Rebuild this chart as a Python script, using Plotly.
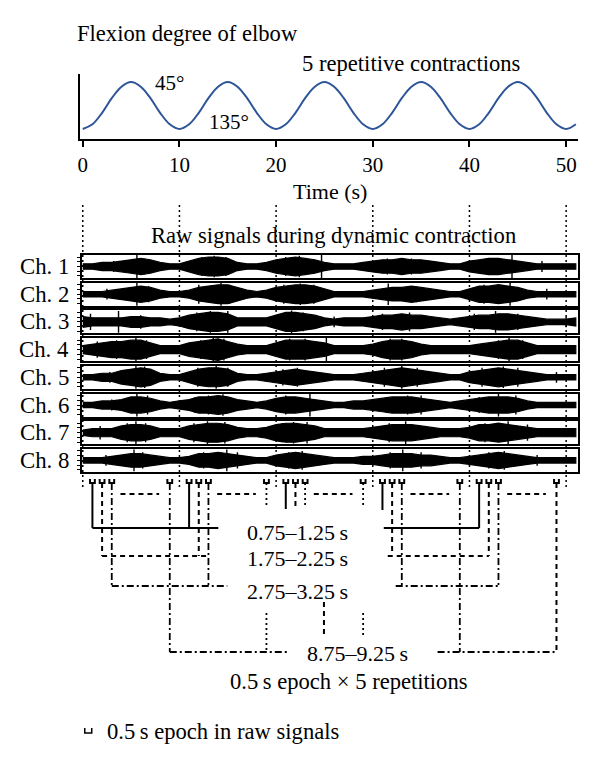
import plotly.graph_objects as go

# ---------------- data ----------------
time_s = list(range(52))  # 1 s steps
flexion_deg = [
    135, 126, 104, 76, 54, 45, 54, 76, 104, 126,
    135, 126, 104, 76, 54, 45, 54, 76, 104, 126,
    135, 126, 104, 76, 54, 45, 54, 76, 104, 126,
    135, 126, 104, 76, 54, 45, 54, 76, 104, 126,
    135, 126, 104, 76, 54, 45, 54, 76, 104, 126,
    135, 126,
]
time_ticks = [0, 10, 20, 30, 40, 50]

channel_names = ["Ch. 1", "Ch. 2", "Ch. 3", "Ch. 4", "Ch. 5", "Ch. 6", "Ch. 7", "Ch. 8"]

# EMG envelope (tenths of panel half-height), one value per second
ch1_env = [2, 2, 3, 3, 4, 5, 6, 5, 3, 2, 2, 4, 6, 7, 7, 6, 3, 2, 2, 3, 5, 6, 7, 6, 5, 3, 2, 2, 2, 3,
           4, 5, 5, 6, 5, 5, 4, 3, 2, 2, 4, 5, 6, 6, 5, 4, 3, 2, 2, 2, 2, 2]
ch2_env = [2, 2, 2, 3, 4, 5, 6, 5, 3, 2, 2, 3, 5, 6, 7, 7, 5, 3, 2, 3, 5, 6, 7, 7, 6, 4, 2, 2, 2, 2,
           3, 4, 5, 5, 6, 5, 4, 3, 2, 2, 4, 6, 6, 7, 6, 5, 3, 2, 2, 2, 2, 2]
ch3_env = [4, 3, 3, 3, 3, 4, 4, 3, 3, 2, 3, 5, 6, 7, 7, 6, 3, 3, 3, 3, 5, 7, 7, 6, 5, 3, 2, 3, 3, 3,
           4, 5, 5, 6, 5, 5, 4, 3, 2, 3, 4, 5, 5, 6, 6, 5, 4, 3, 2, 2, 2, 3]
ch4_env = [3, 4, 5, 6, 6, 7, 7, 5, 3, 3, 3, 5, 6, 7, 8, 6, 4, 3, 3, 3, 5, 7, 7, 7, 6, 5, 3, 3, 3, 3,
           4, 6, 7, 7, 6, 4, 3, 3, 3, 3, 3, 4, 5, 6, 7, 7, 5, 3, 3, 3, 3, 3]
ch5_env = [2, 2, 3, 3, 5, 6, 7, 6, 3, 2, 2, 4, 6, 7, 7, 6, 3, 2, 2, 3, 4, 5, 6, 5, 4, 3, 2, 2, 2, 3,
           4, 5, 6, 7, 6, 5, 4, 3, 2, 2, 4, 5, 6, 7, 6, 5, 4, 3, 2, 2, 2, 2]
ch6_env = [2, 2, 3, 3, 4, 6, 6, 5, 3, 2, 3, 4, 6, 6, 7, 6, 4, 3, 2, 3, 5, 6, 6, 5, 4, 3, 2, 2, 3, 3,
           4, 5, 6, 6, 6, 5, 4, 3, 2, 3, 4, 5, 6, 6, 6, 5, 3, 2, 2, 2, 2, 2]
ch7_env = [2, 3, 3, 3, 5, 6, 6, 5, 3, 3, 3, 5, 6, 7, 7, 6, 4, 3, 3, 4, 6, 7, 7, 6, 5, 3, 3, 3, 3, 3,
           4, 5, 6, 6, 6, 5, 4, 3, 3, 3, 4, 6, 6, 7, 6, 5, 4, 3, 3, 3, 3, 3]
ch8_env = [2, 2, 2, 3, 4, 5, 5, 4, 3, 2, 2, 3, 5, 5, 6, 5, 4, 3, 2, 2, 4, 5, 6, 5, 4, 3, 2, 2, 2, 3,
           3, 4, 5, 5, 5, 4, 4, 3, 2, 2, 3, 4, 5, 6, 5, 4, 3, 2, 2, 2, 2, 2]
ch_envs = [ch1_env, ch2_env, ch3_env, ch4_env, ch5_env, ch6_env, ch7_env, ch8_env]

# single spikes sticking out of the envelope: times (s) and amplitudes
ch1_spk_t = [3.2, 5.6, 6.4, 12.3, 13.6, 14.8, 21.0, 22.4, 24.7, 31.5, 34.0, 41.8, 44.4, 47.5]
ch1_spk_a = [4, 9, 6, 7, 8, 7, 7, 8, 9, 6, 6, 6, 9, 4]
ch2_spk_t = [2.5, 5.6, 6.8, 12.0, 14.3, 15.2, 20.8, 22.5, 23.9, 31.6, 34.5, 41.5, 43.0, 44.2, 48.0]
ch2_spk_a = [4, 9, 6, 7, 9, 7, 7, 8, 7, 8, 6, 7, 7, 9, 4]
ch3_spk_t = [0.8, 3.7, 6.0, 11.8, 13.2, 15.0, 21.6, 22.8, 26.0, 31.0, 33.8, 40.5, 42.7, 45.0, 50.0]
ch3_spk_a = [6, 8, 5, 7, 8, 8, 9, 7, 4, 6, 7, 6, 8, 6, 4]
ch4_spk_t = [1.5, 3.5, 5.5, 6.6, 12.2, 13.5, 14.6, 21.4, 23.0, 25.2, 31.8, 33.0, 43.0, 44.1, 45.5]
ch4_spk_a = [6, 7, 9, 7, 7, 9, 8, 8, 8, 9, 8, 8, 7, 9, 7]
ch5_spk_t = [2.8, 5.5, 6.4, 11.9, 13.8, 15.0, 20.7, 22.2, 31.2, 33.0, 34.6, 41.3, 43.5, 45.0, 49.0]
ch5_spk_a = [4, 9, 8, 7, 9, 7, 6, 7, 7, 9, 7, 7, 8, 7, 4]
ch6_spk_t = [3.0, 5.6, 6.7, 11.6, 13.0, 14.5, 21.0, 23.5, 31.4, 33.6, 35.0, 41.0, 43.0, 44.8]
ch6_spk_a = [4, 9, 7, 6, 7, 8, 7, 9, 6, 7, 7, 6, 9, 7]
ch7_spk_t = [1.8, 4.6, 5.5, 6.5, 11.5, 12.9, 14.7, 20.6, 21.8, 23.2, 31.7, 33.4, 41.6, 44.0, 46.0]
ch7_spk_a = [5, 7, 9, 7, 7, 9, 8, 7, 8, 8, 7, 9, 7, 9, 6]
ch8_spk_t = [2.4, 5.3, 6.2, 12.5, 14.9, 16.0, 21.3, 22.7, 31.8, 33.1, 35.0, 42.0, 43.6, 47.0]
ch8_spk_a = [4, 8, 6, 6, 8, 6, 6, 7, 6, 8, 6, 6, 7, 4]
ch_spk_t = [ch1_spk_t, ch2_spk_t, ch3_spk_t, ch4_spk_t, ch5_spk_t, ch6_spk_t, ch7_spk_t, ch8_spk_t]
ch_spk_a = [ch1_spk_a, ch2_spk_a, ch3_spk_a, ch4_spk_a, ch5_spk_a, ch6_spk_a, ch7_spk_a, ch8_spk_a]

rep_start_s = [0, 10, 20, 30, 40]
epoch_mid_s = [1, 2, 3, 9]
epoch_len_s = 0.5
epoch_labels = ["0.75–1.25\u2009s", "1.75–2.25\u2009s", "2.75–3.25\u2009s", "8.75–9.25\u2009s"]

# ---------------- layout helpers ----------------
W, H = 600, 772
OFF = 8  # page body margin
FONT = "Liberation Serif"
T_PX0, PX_PER_S = 81, 9.7


def t_of(px):
    return (px - T_PX0) / PX_PER_S


def xp(px):
    return (px - OFF) / W


def yp(py):
    return 1 - (py - OFF) / H


fig = go.Figure()

# top: flexion angle
fig.add_trace(go.Scatter(x=time_s, y=flexion_deg, mode="lines", xaxis="x", yaxis="y",
                         line=dict(color="#2d5597", width=2, shape="spline", smoothing=1)))

layout_axes = {}
layout_axes["xaxis"] = dict(domain=[xp(78), xp(578)], range=[t_of(78), t_of(578)], anchor="y",
                            showline=True, linewidth=2, linecolor="black", ticks="outside",
                            ticklen=6, tickwidth=2, tickcolor="black", tickvals=time_ticks,
                            tickfont=dict(size=21, color="black"), showgrid=False, zeroline=False)
layout_axes["yaxis"] = dict(domain=[yp(139), yp(74)], range=[154.2, 29.7], anchor="x",
                            showline=True, linewidth=2, linecolor="black", ticks="",
                            showticklabels=False, showgrid=False, zeroline=False)

# EMG panels
PANEL_TOP0, PANEL_STEP, PANEL_H = 255, 27.7, 23
annotations = []
for i, name in enumerate(channel_names):
    n = i + 2
    env = ch_envs[i]
    top = PANEL_TOP0 + PANEL_STEP * i
    bot = top + PANEL_H
    xs = time_s + time_s[::-1]
    ys = env + [-v for v in env[::-1]]
    fig.add_trace(go.Scatter(x=xs, y=ys, mode="lines", fill="toself", fillcolor="black",
                             line=dict(color="black", width=1.2), xaxis=f"x{n}", yaxis=f"y{n}"))
    sx, sy = [], []
    for t, a in zip(ch_spk_t[i], ch_spk_a[i]):
        sx += [t, t, None]
        sy += [-a, a, None]
    fig.add_trace(go.Scatter(x=sx, y=sy, mode="lines", line=dict(color="black", width=1.4),
                             xaxis=f"x{n}", yaxis=f"y{n}"))
    layout_axes[f"xaxis{n}"] = dict(domain=[xp(80), xp(578)], range=[t_of(80), t_of(578)],
                                    anchor=f"y{n}", showline=True, mirror=True, linewidth=2,
                                    linecolor="black", ticks="", showticklabels=False,
                                    showgrid=False, zeroline=False)
    layout_axes[f"yaxis{n}"] = dict(domain=[yp(bot), yp(top)], range=[-8.5, 8.5], anchor=f"x{n}",
                                    showline=True, mirror=True, linewidth=2, linecolor="black",
                                    ticks="outside", ticklen=3, tickwidth=1, tickcolor="black",
                                    tickvals=[-7, -3.5, 0, 3.5, 7], showticklabels=False,
                                    showgrid=False, zeroline=False)
    annotations.append(dict(text=name, x=xp(69), y=yp(top + PANEL_H / 2), xref="paper",
                            yref="paper", xanchor="right", yanchor="middle", showarrow=False,
                            font=dict(size=22.8)))

# overlay axis: x in seconds, y in screen pixel rows
OV = 10
layout_axes[f"xaxis{OV}"] = dict(domain=[xp(80), xp(578)], range=[t_of(80), t_of(578)],
                                 anchor=f"y{OV}", visible=False)
layout_axes[f"yaxis{OV}"] = dict(domain=[0, 1], range=[H + OFF, OFF], anchor=f"x{OV}", visible=False)

styles = {
    "solid": dict(color="black", width=2),
    "dash": dict(color="black", width=2, dash="5px,4px"),
    "dashdot": dict(color="black", width=1.8, dash="7px,3px,2px,3px"),
    "dot": dict(color="black", width=1.8, dash="2px,3px"),
    "guide": dict(color="black", width=1.5, dash="2px,3px"),
    "mark": dict(color="black", width=2),
}
segs = {k: ([], []) for k in styles}


def seg(style, xs, ys):
    segs[style][0].extend(list(xs) + [None])
    segs[style][1].extend(list(ys) + [None])


# vertical dotted guides at the time ticks
for t in time_ticks:
    seg("guide", [t, t], [205, 488])

MARK_TOP, MARK_BAR = 479, 483
for r in rep_start_s:
    for e in epoch_mid_s:
        c = r + e
        h = epoch_len_s / 2
        seg("mark", [c - h, c - h, c + h, c + h], [MARK_TOP, MARK_BAR, MARK_BAR, MARK_TOP])
    # "..." between 3rd and 9th epoch
    seg("dash", [r + 3.9, r + 7.9], [494, 494])

# vertical drops: (repetition, epoch, style, end row)
drops = [
    (0, 0, "solid", 528), (0, 1, "dash", 556), (0, 2, "dashdot", 586), (0, 3, "dashdot", 652),
    (1, 0, "solid", 528), (1, 1, "dash", 556), (1, 2, "dashdot", 586), (1, 3, "dot", 507),
    (2, 0, "solid", 509), (2, 1, "dash", 507), (2, 2, "dot", 505), (2, 3, "dot", 507),
    (3, 0, "solid", 510), (3, 1, "dash", 552), (3, 2, "dashdot", 586), (3, 3, "dashdot", 652),
    (4, 0, "solid", 528), (4, 1, "dash", 556), (4, 2, "dashdot", 586), (4, 3, "dash", 652),
]
for r, e, st, yend in drops:
    c = rep_start_s[r] + epoch_mid_s[e]
    seg(st, [c, c], [MARK_BAR, yend])

# lower fragments (vertical ellipsis)
c19 = rep_start_s[1] + epoch_mid_s[3]
c29 = rep_start_s[2] + epoch_mid_s[3]
seg("dot", [c19, c19], [613, 652])
seg("dot", [c29, c29], [613, 636])
seg("dash", [t_of(323), t_of(323)], [602, 636])

# horizontal collectors
rep1_e = [rep_start_s[0] + e for e in epoch_mid_s]
rep5_e = [rep_start_s[4] + e for e in epoch_mid_s]
seg("solid", [rep1_e[0], t_of(217)], [528, 528])
seg("solid", [t_of(383), rep5_e[0]], [528, 528])
seg("dash", [rep1_e[1], t_of(207)], [556, 556])
seg("dash", [t_of(387), rep5_e[1]], [556, 556])
seg("dashdot", [rep1_e[2], t_of(226)], [586, 586])
seg("dashdot", [t_of(395), rep5_e[2]], [586, 586])
seg("dashdot", [rep1_e[3], t_of(288)], [652, 652])
seg("dashdot", [t_of(437), rep5_e[3]], [652, 652])

for k, (xs, ys) in segs.items():
    if xs:
        fig.add_trace(go.Scatter(x=xs, y=ys, mode="lines", line=styles[k],
                                 xaxis=f"x{OV}", yaxis=f"y{OV}"))


# texts
def txt(text, x, y, anchor="left", size=22.6):
    annotations.append(dict(text=text, x=xp(x), y=yp(y), xref="paper", yref="paper",
                            xanchor=anchor, yanchor="middle", showarrow=False,
                            font=dict(size=size)))


txt("Flexion degree of elbow", 73, 33)
txt("5 repetitive contractions", 299, 63)
txt("45°", 151, 83, size=21)
txt("135°", 206, 122, size=21)
txt("Time (s)", 329, 192, anchor="center", size=22)
txt("Raw signals during dynamic contraction", 333, 236, anchor="center")
txt(epoch_labels[0], 296, 532, anchor="center", size=22)
txt(epoch_labels[1], 296, 558, anchor="center", size=22)
txt(epoch_labels[2], 296, 591, anchor="center", size=22)
txt(epoch_labels[3], 357, 653, anchor="center", size=22)
txt("0.5\u2009s epoch × 5 repetitions", 348, 681, anchor="center")
txt("0.5\u2009s epoch in raw signals", 103, 731)

shapes = [dict(type="path", xref="paper", yref="paper",
               path=f"M {xp(83)},{yp(728)} L {xp(83)},{yp(733)} L {xp(90)},{yp(733)} L {xp(90)},{yp(728)}",
               line=dict(color="black", width=1.5))]

fig.update_layout(width=W, height=H, autosize=False, margin=dict(l=0, r=0, t=0, b=0),
                  paper_bgcolor="white", plot_bgcolor="rgba(0,0,0,0)", showlegend=False,
                  font=dict(family=FONT, color="black"), annotations=annotations, shapes=shapes,
                  **layout_axes)

fig.write_html("out.html")
